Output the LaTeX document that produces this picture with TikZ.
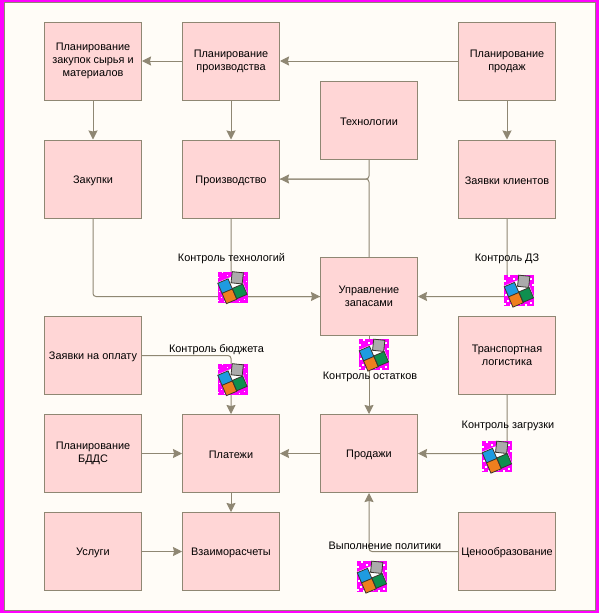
\documentclass[tikz,border=0pt]{standalone}
\usepackage{fontspec}
\setmainfont{Liberation Sans}
\usetikzlibrary{arrows.meta}
\definecolor{paper}{HTML}{FFFCF7}
\definecolor{frameline}{HTML}{8F8773}
\definecolor{boxfill}{HTML}{FFD6D6}
\definecolor{iconpink}{HTML}{FF00FF}
\definecolor{tilegray}{HTML}{ABABAB}
\definecolor{tileblue}{HTML}{1E9BE0}
\definecolor{tileorange}{HTML}{EE7F1E}
\definecolor{tilegreen}{HTML}{0F8F4F}
\tikzset{
	block/.style={draw=frameline,fill=boxfill,line width=1pt,minimum width=97pt,minimum height=78pt,inner sep=1pt,align=center,font=\fontsize{10.9}{12.8}\selectfont,execute at begin node={\rule{0pt}{11pt}}},
	tag/.style={font=\fontsize{10.9}{13}\selectfont,inner sep=0pt},
	link/.style={draw=frameline,line width=1pt,rounded corners=3pt},
	tile/.style={draw=black!60!frameline,line width=.8pt}
}
\newcommand{\icontile}[4]{\draw[tile,fill=#4,shift={(#1,#2)},rotate=#3] (-5.6,-5.6) rectangle (5.6,5.6);}
\begin{document}
\begin{tikzpicture}[x=1pt,y=-1pt,line cap=butt,line join=miter,>={Stealth[length=9pt,width=9pt,inset=1pt]}]
	\useasboundingbox (0,0) rectangle (599,613);
	\fill[iconpink] (0,0) rectangle (599,613);
	\draw[fill=paper,draw=frameline,line width=1pt] (4.5,2.5) rectangle (595.5,610.5);
	\foreach \name/\x/\y/\txt in {
		buyplan/93/61/{Планирование\\закупок сырья и\\материалов},
		makeplan/231/61/{Планирование\\производства},
		saleplan/507/61/{Планирование\\продаж},
		tech/369/120/{Технологии},
		buy/93/179/{Закупки},
		make/231/179/{Производство},
		orders/507/179/{Заявки клиентов},
		stock/369/296.5/{Управление\\запасами},
		payreq/93/355.5/{Заявки на оплату},
		haul/507/355.5/{Транспортная\\логистика},
		budget/93/453.5/{Планирование\\БДДС},
		pay/231/453.5/{Платежи},
		sales/369/453.5/{Продажи},
		services/93/551.5/{Услуги},
		settle/231/551.5/{Взаиморасчеты},
		pricing/507/551.5/{Ценообразование}}{
		\node[block] (\name) at (\x,\y) {\txt};
	}
	% links
	\draw[link,->] (saleplan) -- (makeplan);
	\draw[link,->] (makeplan) -- (buyplan);
	\draw[link,->] (buyplan) -- (buy);
	\draw[link,->] (makeplan) -- (make);
	\draw[link,->] (saleplan) -- (orders);
	\draw[link,->] (tech.south) |- (make.east);
	\draw[link] (stock.north) |- (make.east);
	\draw[link,->] (buy.south) |- (stock.west);
	\draw[link] (make.south) |- (stock.west);
	\draw[link,->] (orders.south) |- (stock.east);
	\draw[link,->] (stock) -- (sales);
	\draw[link,->] (haul.south) |- (sales.east);
	\draw[link,->] (sales) -- (pay);
	\draw[link,->] (payreq.east) -| (pay.north);
	\draw[link,->] (budget) -- (pay);
	\draw[link,->] (pay) -- (settle);
	\draw[link,->] (services) -- (settle);
	\draw[link,->] (pricing.west) -| (sales.south);
	% icons
	\foreach \x/\y in {217.5/271.5,504/275,359/339,217.5/363.5,482/441,357/561}{
		\begin{scope}[shift={(\x,\y)}]
			\fill[iconpink] (0,0) rectangle (30,31);
			\fill[white,rotate around={22:(14,16)}] (3,6) rectangle (26.5,27);
			\foreach \a/\b in {0/5,4/0,9/3,14/1,26/3,28/9,1/19,3/25,0/28,6/29,26/27,15/28,21/29,28/21}{
				\fill[white] (\a,\b) rectangle ++(1.5,1.5);
			}
			\icontile{19.7}{6.3}{-6}{tilegray}
			\icontile{7.6}{14.7}{23}{tileblue}
			\icontile{11.9}{24.8}{23}{tileorange}
			\icontile{22.2}{19.9}{23}{tilegreen}
		\end{scope}
	}
	% labels
	\node[tag] (ctrlmake) at (231.5,258.5) {Контроль технологий};
	\node[tag] (ctrldebt) at (507,258.5) {Контроль ДЗ};
	\node[tag] (ctrlbudget) at (216.5,349.5) {Контроль бюджета};
	\node[tag] (ctrlstock) at (370,376.5) {Контроль остатков};
	\node[tag] (ctrlload) at (508,425.5) {Контроль загрузки};
	\node[tag] (ctrlpolicy) at (385,546) {Выполнение политики};
\end{tikzpicture}
\end{document}
